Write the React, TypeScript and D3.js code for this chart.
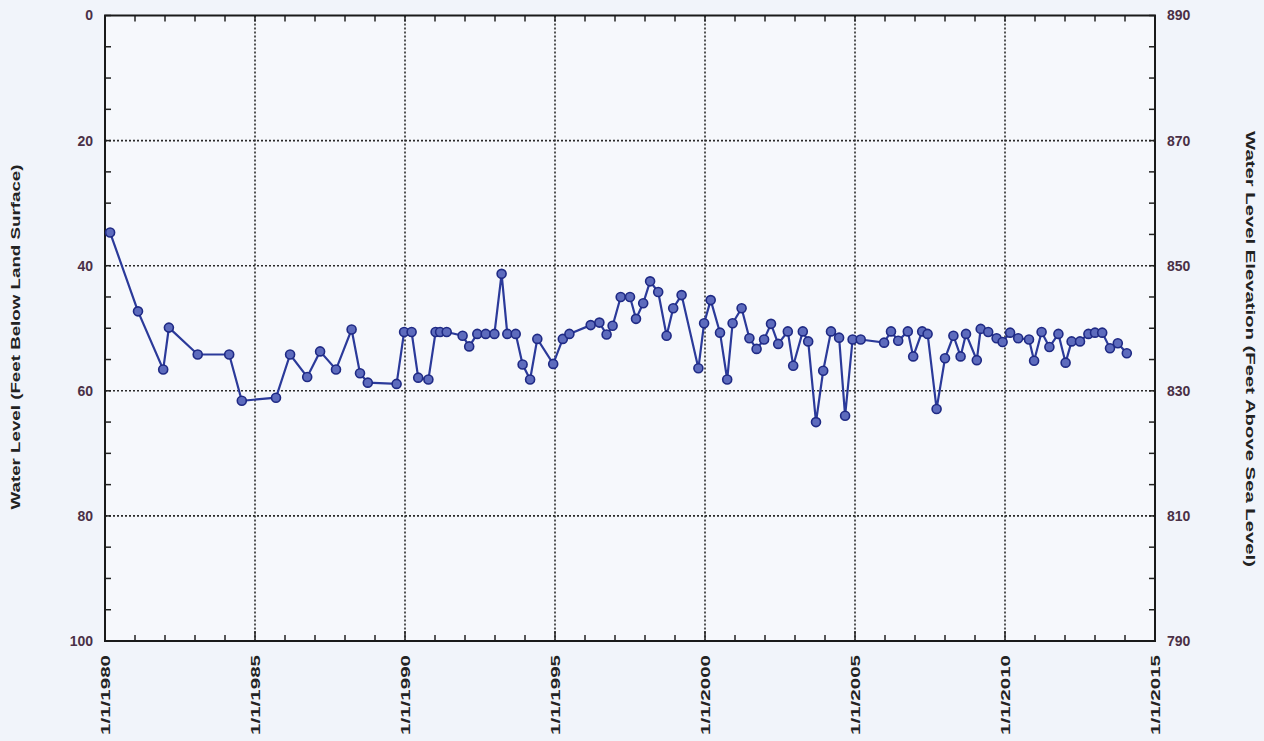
import React from "react";
import * as d3 from "d3";

const years: number[] = [
  1980.17, 1981.1, 1981.94, 1982.13, 1983.09, 1984.14, 1984.56, 1985.7, 1986.17, 1986.74,
  1987.17, 1987.7, 1988.22, 1988.5, 1988.76, 1989.72, 1989.97, 1990.22, 1990.44, 1990.78,
  1991.02, 1991.17, 1991.39, 1991.92, 1992.14, 1992.41, 1992.69, 1992.98, 1993.22, 1993.41,
  1993.69, 1993.92, 1994.17, 1994.41, 1994.94, 1995.26, 1995.48, 1996.19, 1996.48, 1996.72,
  1996.92, 1997.19, 1997.5, 1997.7, 1997.94, 1998.17, 1998.44, 1998.72, 1998.94, 1999.22,
  1999.78, 1999.97, 2000.19, 2000.5, 2000.74, 2000.92, 2001.22, 2001.48, 2001.72, 2001.97,
  2002.2, 2002.44, 2002.76, 2002.94, 2003.26, 2003.44, 2003.7, 2003.94, 2004.2, 2004.47,
  2004.67, 2004.92, 2005.19, 2005.97, 2006.2, 2006.44, 2006.76, 2006.94, 2007.24, 2007.42,
  2007.72, 2008.0, 2008.28, 2008.52, 2008.7, 2009.06, 2009.19, 2009.44, 2009.72, 2009.92,
  2010.17, 2010.44, 2010.8, 2010.97, 2011.22, 2011.48, 2011.78, 2012.02, 2012.22, 2012.5,
  2012.78, 2013.0, 2013.24, 2013.5, 2013.76, 2014.06,
];

const depths: number[] = [
  34.7, 47.3, 56.6, 49.9, 54.2, 54.2, 61.6, 61.1, 54.2, 57.8,
  53.7, 56.6, 50.2, 57.2, 58.7, 58.9, 50.6, 50.6, 57.9, 58.2,
  50.6, 50.6, 50.6, 51.2, 52.9, 50.9, 50.9, 50.9, 41.3, 50.9,
  50.9, 55.8, 58.2, 51.7, 55.7, 51.7, 50.9, 49.5, 49.1, 51.0,
  49.6, 45.0, 45.0, 48.5, 46.0, 42.5, 44.2, 51.2, 46.8, 44.7,
  56.4, 49.2, 45.5, 50.7, 58.2, 49.2, 46.8, 51.6, 53.3, 51.8,
  49.3, 52.5, 50.5, 56.0, 50.5, 52.1, 65.0, 56.8, 50.5, 51.5,
  64.0, 51.8, 51.8, 52.3, 50.5, 52.0, 50.5, 54.5, 50.5, 50.9,
  62.9, 54.8, 51.2, 54.5, 50.9, 55.1, 50.1, 50.6, 51.6, 52.2,
  50.7, 51.6, 51.8, 55.2, 50.6, 53.0, 50.9, 55.5, 52.1, 52.1,
  50.9, 50.7, 50.7, 53.2, 52.4, 54.0,
];

const xTickYears: number[] = [1980, 1985, 1990, 1995, 2000, 2005, 2010, 2015];
const xTickLabels: string[] = ["1/1/1980", "1/1/1985", "1/1/1990", "1/1/1995", "1/1/2000", "1/1/2005", "1/1/2010", "1/1/2015"];
const leftTicks: number[] = [0, 20, 40, 60, 80, 100];
const rightTicks: number[] = [890, 870, 850, 830, 810, 790];

const leftTitle = "Water Level (Feet Below Land Surface)";
const rightTitle = "Water Level Elevation (Feet Above Sea Level)";

const W = 1264;
const H = 741;
const L = 105, R = 1155, T = 15.5, B = 641;

export default function App() {
  const x = d3.scaleLinear().domain([1980, 2015]).range([L, R]);
  const y = d3.scaleLinear().domain([0, 100]).range([T, B]);
  const yR = d3.scaleLinear().domain([890, 790]).range([T, B]);

  const pts = years.map((yr, i) => [x(yr), y(depths[i])] as [number, number]);
  const line = d3.line<[number, number]>().x(d => d[0]).y(d => d[1])(pts) || "";

  const minorX = d3.range(1980, 2016, 1);
  const minorY = d3.range(0, 101, 5);
  const labelColor = "#4a3046";
  const font = "Arial, 'Liberation Sans', sans-serif";

  return (
    <svg width={W} height={H} style={{ position: "absolute", left: 0, top: 0, background: "#f1f4fa" }}>
      <rect x={0} y={0} width={W} height={H} fill="#f1f4fa" />
      <rect x={L} y={T} width={R - L} height={B - T} fill="#f6f8fc" />
      {xTickYears.slice(1, -1).map(v => (
        <line key={"gx" + v} x1={x(v)} x2={x(v)} y1={T} y2={B} stroke="#2a2a2a" strokeWidth={1.6} strokeDasharray="2,2" />
      ))}
      {leftTicks.slice(1, -1).map(v => (
        <line key={"gy" + v} x1={L} x2={R} y1={y(v)} y2={y(v)} stroke="#2a2a2a" strokeWidth={1.6} strokeDasharray="2,2" />
      ))}
      {minorX.map(v => (
        <g key={"mx" + v}>
          <line x1={x(v)} x2={x(v)} y1={B} y2={B - (v % 5 === 0 ? 10 : 6)} stroke="#222" strokeWidth={1.5} />
          <line x1={x(v)} x2={x(v)} y1={T} y2={T + 6} stroke="#222" strokeWidth={1.5} />
        </g>
      ))}
      {minorY.map(v => (
        <g key={"my" + v}>
          <line x1={L} x2={L + 6} y1={y(v)} y2={y(v)} stroke="#222" strokeWidth={1.5} />
          <line x1={R} x2={R - 6} y1={y(v)} y2={y(v)} stroke="#222" strokeWidth={1.5} />
        </g>
      ))}
      <rect x={L} y={T} width={R - L} height={B - T} fill="none" stroke="#1a1a1a" strokeWidth={2} />
      {leftTicks.map(v => (
        <text key={"lt" + v} x={L - 12} y={y(v)} dy="0.35em" textAnchor="end" fontFamily={font} fontWeight="bold" fontSize={14} fill={labelColor}>
          {v}
        </text>
      ))}
      {rightTicks.map(v => (
        <text key={"rt" + v} x={R + 12} y={yR(v)} dy="0.35em" textAnchor="start" fontFamily={font} fontWeight="bold" fontSize={14} fill={labelColor}>
          {v}
        </text>
      ))}
      {xTickYears.map((v, i) => (
        <text key={"xt" + v} transform={`translate(${x(v)},${B + 14}) rotate(-90)`} dy="0.35em" textAnchor="end" fontFamily={font} fontWeight="bold" fontSize={13} fill="#222" textLength={80} lengthAdjust="spacingAndGlyphs">
          {xTickLabels[i]}
        </text>
      ))}
      <text transform={`translate(16,337) rotate(-90)`} textAnchor="middle" dy="0.35em" fontFamily={font} fontWeight="bold" fontSize={12.5} fill="#222" textLength={345} lengthAdjust="spacingAndGlyphs">
        {leftTitle}
      </text>
      <text transform={`translate(1250,349) rotate(90)`} textAnchor="middle" dy="0.35em" fontFamily={font} fontWeight="bold" fontSize={12.5} fill="#222" textLength={436} lengthAdjust="spacingAndGlyphs">
        {rightTitle}
      </text>
      <path d={line} fill="none" stroke="#2b3a9a" strokeWidth={2.2} />
      {pts.map((p, i) => (
        <circle key={"c" + i} cx={p[0]} cy={p[1]} r={4.5} fill="#5d6bbd" stroke="#1f2a85" strokeWidth={1.6} />
      ))}
    </svg>
  );
}
